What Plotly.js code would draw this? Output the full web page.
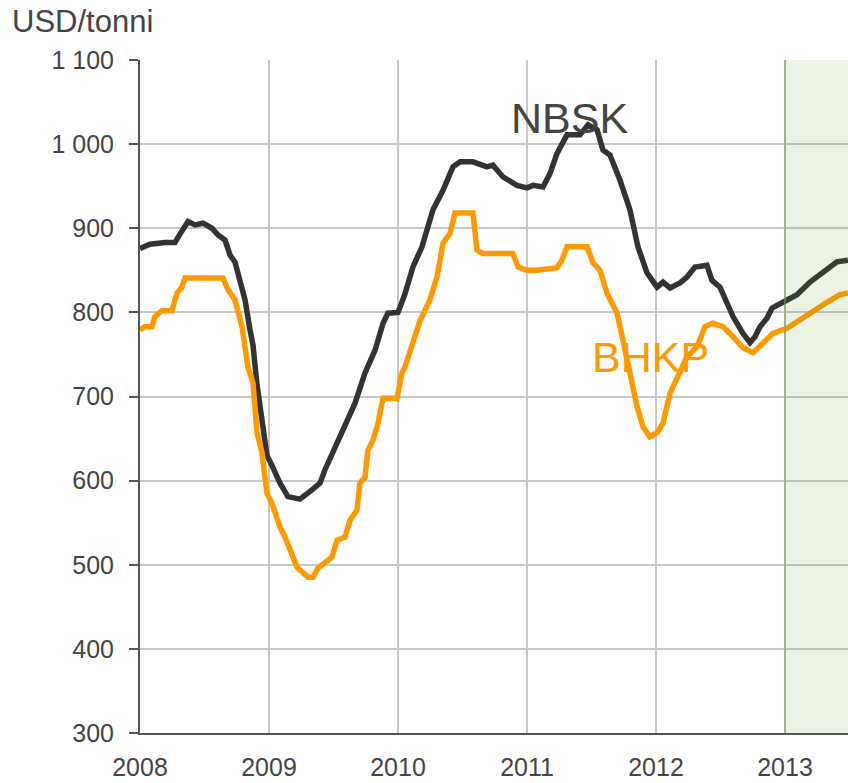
<!DOCTYPE html>
<html>
<head>
<meta charset="utf-8">
<script src="https://cdn.plot.ly/plotly-3.0.1.min.js"></script>
<style>html,body{margin:0;padding:0;background:#fff;}#chart{width:848px;height:783px;}</style>
</head>
<body>
<div id="chart"></div>
<script>
// Decimal years and USD/tonne values
const nbskYears = [2008.000,2008.078,2008.194,2008.271,2008.310,2008.372,2008.426,2008.488,2008.558,2008.605,2008.659,2008.698,2008.736,2008.775,2008.814,2008.853,2008.876,2008.907,2008.946,2008.984,2009.023,2009.085,2009.147,2009.240,2009.333,2009.395,2009.434,2009.512,2009.589,2009.667,2009.744,2009.822,2009.884,2009.922,2010.000,2010.054,2010.116,2010.186,2010.271,2010.349,2010.426,2010.481,2010.581,2010.690,2010.736,2010.814,2010.922,2011.000,2011.047,2011.124,2011.178,2011.233,2011.310,2011.411,2011.473,2011.543,2011.589,2011.643,2011.721,2011.798,2011.860,2011.930,2012.008,2012.054,2012.109,2012.186,2012.240,2012.302,2012.395,2012.434,2012.496,2012.550,2012.597,2012.674,2012.729,2012.767,2012.806,2012.860,2012.899,2012.984,2013.093,2013.194,2013.295,2013.403,2013.488];
const nbskValues = [876,881,883,883,893,908,904,906,900,892,886,868,860,835,815,779,761,714,672,630,618,597,581,578,589,597,613,640,664,692,728,755,787,799,800,822,854,878,922,945,973,979,979,973,975,961,951,948,951,949,965,989,1011,1011,1023,1017,993,987,957,922,878,847,830,836,829,835,842,854,856,838,830,812,795,775,764,771,783,793,805,812,821,836,847,860,862];

const bhkpYears = [2008.000,2008.039,2008.093,2008.116,2008.171,2008.248,2008.287,2008.326,2008.349,2008.643,2008.682,2008.736,2008.791,2008.837,2008.876,2008.907,2008.946,2008.984,2009.023,2009.085,2009.124,2009.163,2009.217,2009.302,2009.341,2009.380,2009.488,2009.527,2009.589,2009.628,2009.682,2009.705,2009.744,2009.767,2009.806,2009.845,2009.884,2009.992,2010.031,2010.054,2010.171,2010.248,2010.302,2010.349,2010.403,2010.442,2010.581,2010.612,2010.659,2010.891,2010.930,2011.000,2011.078,2011.233,2011.271,2011.310,2011.465,2011.512,2011.566,2011.620,2011.698,2011.744,2011.798,2011.853,2011.899,2011.953,2012.008,2012.054,2012.109,2012.163,2012.240,2012.318,2012.380,2012.442,2012.519,2012.597,2012.674,2012.752,2012.829,2012.907,2013.016,2013.116,2013.217,2013.326,2013.426,2013.488];
const bhkpValues = [779,783,783,795,802,802,823,830,841,841,827,815,783,735,716,657,633,585,573,545,533,518,497,485,485,496,509,529,533,553,565,597,604,636,648,668,698,698,728,735,790,815,842,882,894,918,918,874,870,870,854,850,850,853,862,878,878,859,850,823,799,767,728,688,664,652,657,668,704,723,747,759,783,787,783,771,758,752,764,775,781,791,803,812,821,823];

const xTickVals = [2008, 2009, 2010, 2011, 2012, 2013];
const xTickText = ['2008', '2009', '2010', '2011', '2012', '2013'];
const yTickVals = [300, 400, 500, 600, 700, 800, 900, 1000, 1100];
const yTickText = ['300', '400', '500', '600', '700', '800', '900', '1 000', '1 100'];
const forecastStart = 2013;
const seriesNames = ['NBSK', 'BHKP'];
const unitLabel = 'USD/tonni';

const xMin = 2008, xMax = 2008 + 708 / 129;

const traces = [
  {x: nbskYears, y: nbskValues, name: seriesNames[0], type: 'scatter', mode: 'lines',
   line: {color: '#333333', width: 5.5}},
  {x: bhkpYears, y: bhkpValues, name: seriesNames[1], type: 'scatter', mode: 'lines',
   line: {color: '#FF9900', width: 5.5}}
];

const layout = {
  width: 848, height: 783,
  margin: {l: 140, r: 0, t: 60, b: 50, pad: 0},
  paper_bgcolor: '#ffffff', plot_bgcolor: '#ffffff',
  showlegend: false,
  font: {family: 'Liberation Sans, Arial, sans-serif', color: '#444444', size: 25},
  xaxis: {
    range: [xMin, xMax], autorange: false, tickvals: xTickVals, ticktext: xTickText,
    showgrid: true, gridcolor: '#c8c8c8', gridwidth: 2,
    showline: true, linecolor: '#555555', linewidth: 2,
    ticks: 'outside', ticklen: 11, tickcolor: 'rgba(0,0,0,0)',
    tickfont: {size: 25, color: '#444444'}, zeroline: false, fixedrange: true
  },
  yaxis: {
    range: [300, 1100], autorange: false, tickvals: yTickVals, ticktext: yTickText,
    showgrid: true, gridcolor: '#c8c8c8', gridwidth: 2,
    showline: true, linecolor: '#555555', linewidth: 2,
    ticks: 'outside', ticklen: 9, tickwidth: 2, tickcolor: '#555555',
    ticklabelstandoff: 10,
    tickfont: {size: 25, color: '#444444'}, zeroline: false, fixedrange: true
  },
  shapes: [
    {type: 'rect', xref: 'x', yref: 'paper', x0: forecastStart, x1: xMax, y0: 0, y1: 1,
     fillcolor: 'rgba(90,155,30,0.12)', line: {width: 0}, layer: 'above'},
    {type: 'line', xref: 'x', yref: 'paper', x0: forecastStart, x1: forecastStart, y0: 0, y1: 1,
     line: {color: 'rgba(130,165,105,0.55)', width: 2}, layer: 'above'}
  ],
  annotations: [
    {xref: 'paper', yref: 'paper', x: -130 / 708, y: 1 + (60 - 22) / 673, xanchor: 'left', yanchor: 'middle',
     text: unitLabel, showarrow: false, font: {size: 31, color: '#444444'}},
    {xref: 'x', yref: 'y', x: 2011.333, y: 1031, xanchor: 'center', yanchor: 'middle',
     text: seriesNames[0], showarrow: false, font: {size: 43, color: '#444444'}},
    {xref: 'x', yref: 'y', x: 2011.96, y: 747, xanchor: 'center', yanchor: 'middle',
     text: seriesNames[1], showarrow: false, font: {size: 43, color: '#FF9900'}}
  ]
};

Plotly.newPlot('chart', traces, layout, {displayModeBar: false, staticPlot: true});
</script>
</body>
</html>
